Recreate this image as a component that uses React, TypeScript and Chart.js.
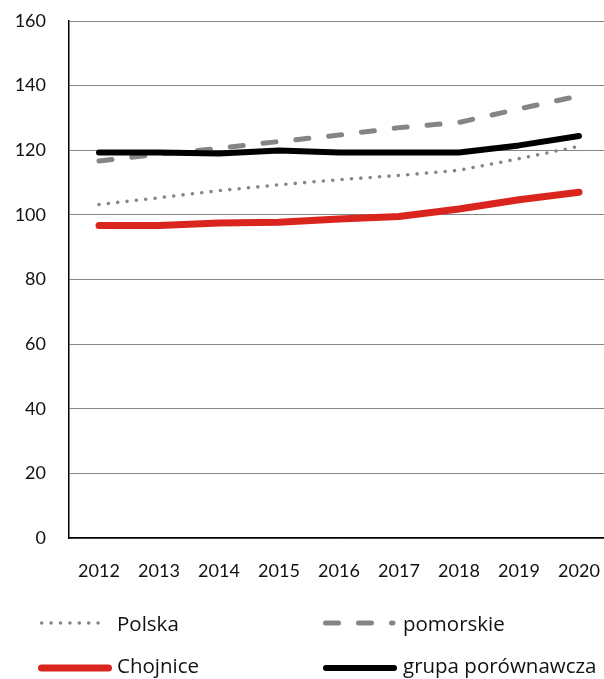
import React, { useEffect, useRef } from "react";
import { Chart, registerables } from "chart.js";

Chart.register(...registerables);

const years = [2012, 2013, 2014, 2015, 2016, 2017, 2018, 2019, 2020];
const polska = [103.2, 105.3, 107.5, 109.3, 110.9, 112.2, 113.8, 117.4, 121.2];
const pomorskie = [116.7, 118.8, 120.6, 122.7, 124.7, 127.0, 128.6, 132.8, 136.8];
const chojnice = [96.7, 96.7, 97.5, 97.7, 98.7, 99.5, 101.8, 104.7, 107.0];
const grupa = [119.3, 119.3, 119.0, 119.9, 119.3, 119.3, 119.3, 121.5, 124.4];
const yTicks = [0, 20, 40, 60, 80, 100, 120, 140, 160];
const seriesNames = ["Polska", "pomorskie", "Chojnice", "grupa porównawcza"];

const GRAY = "#858585";
const RED = "#d9251d";

const legendLayout = [
  { x1: 41.7, x2: 98.3, ly: 623, tx: 117, ty: 631 },
  { x1: 325.5, x2: 393, ly: 623, tx: 403, ty: 631 },
  { x1: 41.5, x2: 108.5, ly: 668, tx: 117, ty: 673 },
  { x1: 326, x2: 394, ly: 668, tx: 403, ty: 673 },
];

const legendPlugin = {
  id: "customLegend",
  afterDraw(chart: any) {
    const ctx = chart.ctx as CanvasRenderingContext2D;
    chart.data.datasets.forEach((ds: any, i: number) => {
      const L = legendLayout[i];
      ctx.save();
      ctx.strokeStyle = ds.borderColor;
      ctx.lineWidth = ds.borderWidth;
      ctx.lineCap = "round";
      ctx.setLineDash(ds.borderDash || []);
      ctx.beginPath();
      ctx.moveTo(L.x1, L.ly);
      ctx.lineTo(L.x2, L.ly);
      ctx.stroke();
      ctx.setLineDash([]);
      ctx.fillStyle = "#111";
      ctx.font = '20.5px "Open Sans"';
      ctx.textBaseline = "alphabetic";
      ctx.textAlign = "left";
      ctx.fillText(ds.label, L.tx, L.ty);
      ctx.restore();
    });
  },
};

export default function App() {
  const ref = useRef<HTMLCanvasElement | null>(null);

  useEffect(() => {
    if (!ref.current) return;
    const toXY = (vals: number[]) => vals.map((v, i) => ({ x: years[i], y: v }));
    const chart = new Chart(ref.current, {
      type: "line",
      data: {
        datasets: [
          {
            label: seriesNames[0],
            data: toXY(polska),
            borderColor: GRAY,
            borderWidth: 3.6,
            borderDash: [0, 9.4],
            borderCapStyle: "round",
            pointRadius: 0,
            tension: 0,
            order: 2,
          } as any,
          {
            label: seriesNames[1],
            data: toXY(pomorskie),
            borderColor: GRAY,
            borderWidth: 5,
            borderDash: [13, 20],
            borderCapStyle: "round",
            pointRadius: 0,
            tension: 0,
            order: 3,
          },
          {
            label: seriesNames[2],
            data: toXY(chojnice),
            borderColor: RED,
            borderWidth: 7,
            borderCapStyle: "round",
            borderJoinStyle: "round",
            pointRadius: 0,
            tension: 0,
            order: 1,
          },
          {
            label: seriesNames[3],
            data: toXY(grupa),
            borderColor: "#000000",
            borderWidth: 6,
            borderCapStyle: "round",
            borderJoinStyle: "round",
            pointRadius: 0,
            tension: 0,
            order: 0,
          },
        ],
      },
      options: {
        animation: false,
        responsive: false,
        layout: { padding: { left: 0, right: 0, top: 21, bottom: 100 } },
        plugins: { legend: { display: false }, tooltip: { enabled: false } },
        scales: {
          x: {
            type: "linear",
            min: years[0] - 0.5,
            max: years[0] - 0.5 + 535 / 60,
            afterBuildTicks: (axis: any) => {
              axis.ticks = years.map((v) => ({ value: v }));
            },
            afterFit: (scale: any) => {
              scale.height = 41;
              scale.paddingLeft = 0;
              scale.paddingRight = 0;
            },
            grid: { display: false, drawTicks: false },
            border: { display: true, color: "#000", width: 1.5 },
            ticks: {
              padding: 22,
              autoSkip: false,
              maxRotation: 0,
              color: "#111",
              font: { family: "Lato", size: 18 },
              callback: (v: any) => String(v),
            },
          },
          y: {
            min: 0,
            max: 160,
            afterBuildTicks: (axis: any) => {
              axis.ticks = yTicks.map((v) => ({ value: v }));
            },
            afterFit: (scale: any) => {
              scale.width = 69;
              scale.paddingTop = 0;
              scale.paddingBottom = 0;
            },
            grid: { color: GRAY, lineWidth: 1, drawTicks: false },
            border: { display: true, color: "#000", width: 1.5 },
            ticks: {
              padding: 23,
              color: "#111",
              font: { family: "Lato", size: 18 },
              callback: (v: any) => String(v),
            },
          },
        },
      },
      plugins: [legendPlugin],
    });
    return () => chart.destroy();
  }, []);

  return (
    <div style={{ position: "absolute", left: 0, top: 0, width: 604, height: 679 }}>
      <canvas ref={ref} width={604} height={679} />
    </div>
  );
}
